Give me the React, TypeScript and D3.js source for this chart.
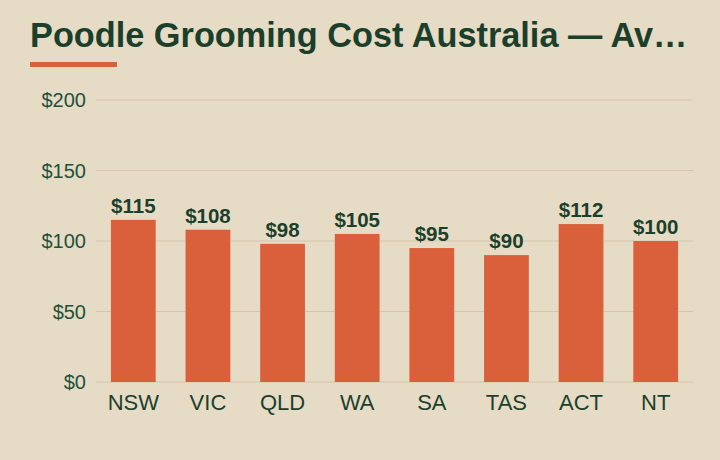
import React, { useEffect, useRef } from 'react';
import * as d3 from 'd3';

const regions = ['NSW', 'VIC', 'QLD', 'WA', 'SA', 'TAS', 'ACT', 'NT'];
const costs = [115, 108, 98, 105, 95, 90, 112, 100];
const yTicks = [0, 50, 100, 150, 200];

const App = () => {
  const ref = useRef<SVGSVGElement>(null);

  useEffect(() => {
    const width = 720;
    const height = 460;
    const margin = { top: 100, left: 96, bottom: 78, right: 27 };
    const iwidth = width - margin.left - margin.right;
    const iheight = height - margin.top - margin.bottom;

    const svg = d3.select(ref.current);
    svg.selectAll('*').remove();

    svg.append('rect').attr('width', width).attr('height', height).attr('fill', '#e6dcc5');

    svg
      .append('text')
      .attr('x', 30)
      .attr('y', 47)
      .attr('fill', '#1c3f2c')
      .style('font-family', 'Liberation Sans, Arial, sans-serif')
      .style('font-weight', 'bold')
      .style('font-size', '34.3px')
      .text('Poodle Grooming Cost Australia — Av…');

    svg.append('rect').attr('x', 30).attr('y', 62).attr('width', 87).attr('height', 5).attr('fill', '#d9603b');

    const g = svg.append('g').attr('transform', `translate(${margin.left},${margin.top})`);

    const y = d3.scaleLinear().domain([0, 200]).range([iheight, 0]);
    const x = d3.scaleBand().domain(regions).range([0, iwidth]).paddingInner(0.4).paddingOuter(0.2);

    g.selectAll('.grid')
      .data(yTicks)
      .enter()
      .append('line')
      .attr('x1', 0)
      .attr('x2', iwidth)
      .attr('y1', (d) => y(d))
      .attr('y2', (d) => y(d))
      .attr('stroke', '#d2c6aa')
      .attr('stroke-width', 1);

    g.selectAll('.ytick')
      .data(yTicks)
      .enter()
      .append('text')
      .attr('x', -10)
      .attr('y', (d) => y(d))
      .attr('dy', '0.35em')
      .attr('text-anchor', 'end')
      .attr('fill', '#24503a')
      .style('font-family', 'Liberation Sans, Arial, sans-serif')
      .style('font-size', '20px')
      .text((d) => `$${d}`);

    const data = regions.map((r, i) => ({ name: r, cost: costs[i] }));

    g.selectAll('.bar')
      .data(data)
      .enter()
      .append('rect')
      .attr('x', (d) => x(d.name)!)
      .attr('y', (d) => y(d.cost))
      .attr('width', x.bandwidth())
      .attr('height', (d) => iheight - y(d.cost))
      .attr('fill', '#d9603b');

    g.selectAll('.val')
      .data(data)
      .enter()
      .append('text')
      .attr('x', (d) => x(d.name)! + x.bandwidth() / 2)
      .attr('y', (d) => y(d.cost) - 7)
      .attr('text-anchor', 'middle')
      .attr('fill', '#1c3f2c')
      .style('font-family', 'Liberation Sans, Arial, sans-serif')
      .style('font-weight', 'bold')
      .style('font-size', '20.5px')
      .text((d) => `$${d.cost}`);

    g.selectAll('.cat')
      .data(data)
      .enter()
      .append('text')
      .attr('x', (d) => x(d.name)! + x.bandwidth() / 2)
      .attr('y', iheight + 28)
      .attr('text-anchor', 'middle')
      .attr('fill', '#1c3f2c')
      .style('font-family', 'Liberation Sans, Arial, sans-serif')
      .style('font-size', '22px')
      .text((d) => d.name);
  }, []);

  return (
    <div style={{ position: 'absolute', top: 0, left: 0 }}>
      <svg ref={ref} width={720} height={460} style={{ display: 'block' }}></svg>
    </div>
  );
};

export default App;
